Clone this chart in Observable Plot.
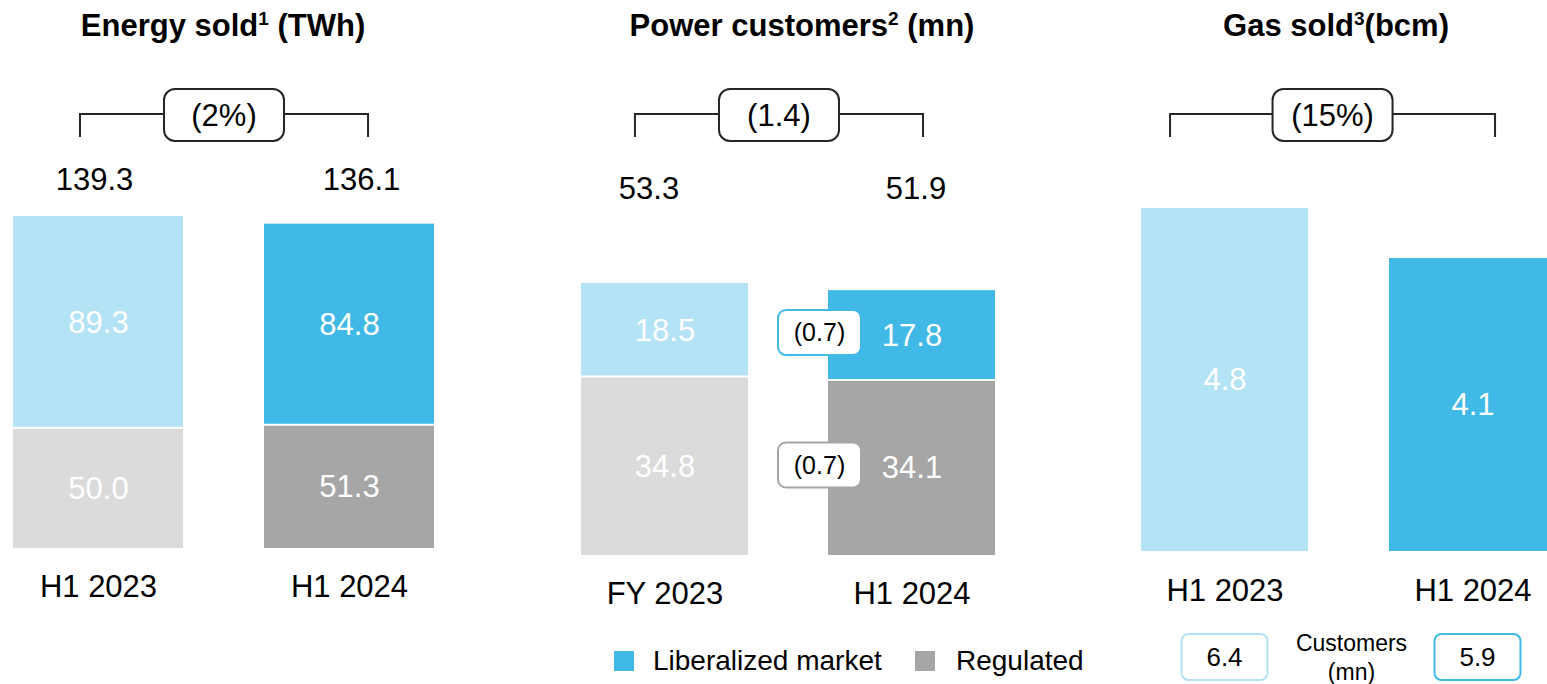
<!DOCTYPE html>
<html>
<head>
<meta charset="utf-8">
<script src="https://cdn.jsdelivr.net/npm/d3@7"></script>
<script src="https://cdn.jsdelivr.net/npm/@observablehq/plot@0.6"></script>
<style>
  html, body { margin: 0; padding: 0; background: #fff; overflow: hidden; }
  #root { position: relative; width: 1547px; height: 684px; overflow: hidden;
          font-family: "Liberation Sans", Arial, sans-serif; color: #000; }
  .title { position: absolute; top: 10px; font-weight: bold; font-size: 31px; line-height: 31px;
           white-space: nowrap; transform: translateX(-50%); }
  .title sup { font-size: 19px; line-height: 0; vertical-align: 11px; }
  .panel { position: absolute; top: 0; }
  .panel svg { max-width: none !important; overflow: visible; }
  .legend-item { position: absolute; font-size: 28px; line-height: 28px; white-space: nowrap; }
  .swatch { position: absolute; width: 20px; height: 20px; }
</style>
</head>
<body>
<div id="root"></div>
<script>
// ---------------- data ----------------
const energyCategories = ["H1 2023", "H1 2024"];
const energyLiberalized = [89.3, 84.8];
const energyRegulated = [50.0, 51.3];
const energyTotals = [139.3, 136.1];
const energyChange = "(2%)";

const powerCategories = ["FY 2023", "H1 2024"];
const powerLiberalized = [18.5, 17.8];
const powerRegulated = [34.8, 34.1];
const powerTotals = [53.3, 51.9];
const powerChange = "(1.4)";
const powerSegmentChanges = ["(0.7)", "(0.7)"]; // liberalized, regulated

const gasCategories = ["H1 2023", "H1 2024"];
const gasSold = [4.8, 4.1];
const gasChange = "(15%)";
const gasCustomers = [6.4, 5.9];
const gasCustomersLabel = ["Customers", "(mn)"];

const titleTexts = [
  ["Energy sold", "1", " (TWh)"],
  ["Power customers", "2", " (mn)"],
  ["Gas sold", "3", "(bcm)"]
];
const legendLabels = ["Liberalized market", "Regulated"];

// ---------------- style ----------------
const FONT = "Liberation Sans, Arial, sans-serif";
const COLORS = { libPrev: "#b3e3f4", libCur: "#41b9e6", regPrev: "#dbdbdb", regCur: "#a6a6a6", ink: "#262626" };
const H = 684;
const root = document.getElementById("root");

function addPanel(plot, left, width) {
  const div = document.createElement("div");
  div.className = "panel";
  div.style.left = left + "px";
  div.style.width = width + "px";
  div.appendChild(plot);
  root.appendChild(div);
}

function roundedLabel(g, cx, cy, w, h, rx, stroke, text, fontSize) {
  g.append("rect").attr("x", cx - w / 2).attr("y", cy - h / 2).attr("width", w).attr("height", h)
    .attr("rx", rx).attr("fill", "white").attr("stroke", stroke).attr("stroke-width", 2);
  g.append("text").attr("x", cx).attr("y", cy).attr("dy", "0.35em").attr("text-anchor", "middle")
    .attr("font-size", fontSize).attr("fill", "black").text(text);
}

function bracket(plot, cats, fracs, change) {
  const xs = plot.scale("x");
  const bw = xs.bandwidth;
  const x1 = xs.apply(cats[0]) + fracs[0] * bw;
  const x2 = xs.apply(cats[1]) + fracs[1] * bw;
  const g = d3.select(plot).append("g").attr("font-family", FONT);
  g.append("path").attr("d", `M${x1},137V114H${x2}V137`).attr("fill", "none")
    .attr("stroke", COLORS.ink).attr("stroke-width", 2);
  roundedLabel(g, (x1 + x2) / 2, 115, 120, 52, 11, COLORS.ink, change, 31);
}

function stackedPanel(cfg) {
  const { cats, lib, reg, totals } = cfg;
  const rows = [];
  cats.forEach((c, i) => {
    rows.push({ cat: c, series: "Regulated", value: reg[i], y1: 0, y2: reg[i],
                fill: i === 0 ? COLORS.regPrev : COLORS.regCur });
    rows.push({ cat: c, series: "Liberalized market", value: lib[i], y1: reg[i], y2: reg[i] + lib[i],
                fill: i === 0 ? COLORS.libPrev : COLORS.libCur });
  });
  const plot = Plot.plot({
    width: cfg.width, height: H,
    marginLeft: cfg.mLeft, marginRight: cfg.mRight, marginTop: cfg.top, marginBottom: H - cfg.bottom,
    style: { fontFamily: FONT, background: "transparent" },
    x: { domain: cats, paddingInner: cfg.padIn, paddingOuter: 0, axis: null },
    y: { domain: [0, d3.max(totals)], axis: null },
    color: { type: "identity" },
    marks: [
      Plot.barY(rows.filter(d => d.series === "Regulated"), { x: "cat", y1: "y1", y2: "y2", fill: "fill" }),
      Plot.barY(rows.filter(d => d.series !== "Regulated"), { x: "cat", y1: "y1", y2: "y2", fill: "fill", insetBottom: 2 }),
      Plot.text(rows, { x: "cat", y: d => (d.y1 + d.y2) / 2, text: d => d.value.toFixed(1), fill: "white", fontSize: 31 }),
      ...cats.map((c, i) => Plot.text([{ cat: c, total: totals[i] }], {
        x: "cat", frameAnchor: "top", lineAnchor: "middle", dy: cfg.totalY - cfg.top, dx: cfg.totalDx[i],
        text: d => d.total.toFixed(1), fontSize: 31, fill: "black" })),
      Plot.text(cats, { x: d => d, frameAnchor: "bottom", lineAnchor: "middle", dy: 39, text: d => d, fontSize: 31, fill: "black" })
    ]
  });
  bracket(plot, cats, cfg.bracketFracs, cfg.change);
  return plot;
}

// ---------------- titles ----------------
const titleCenters = [223, 802, 1336];
titleTexts.forEach((t, i) => {
  const d = document.createElement("div");
  d.className = "title";
  d.style.left = titleCenters[i] + "px";
  d.append(t[0]);
  const s = document.createElement("sup"); s.textContent = t[1]; d.appendChild(s);
  d.append(t[2]);
  root.appendChild(d);
});

// ---------------- panel 1: energy ----------------
const p1 = stackedPanel({
  cats: energyCategories, lib: energyLiberalized, reg: energyRegulated, totals: energyTotals,
  change: energyChange, width: 460, mLeft: 12, mRight: 26, padIn: 0.323,
  top: 216, bottom: 548, totalY: 180, totalDx: [-4, 12], bracketFracs: [0.394, 0.612]
});
addPanel(p1, 0, 460);

// ---------------- panel 2: power customers ----------------
const p2 = stackedPanel({
  cats: powerCategories, lib: powerLiberalized, reg: powerRegulated, totals: powerTotals,
  change: powerChange, width: 560, mLeft: 111, mRight: 35, padIn: 0.324,
  top: 283, bottom: 555, totalY: 189, totalDx: [-16, 4], bracketFracs: [0.323, 0.569]
});
{
  const xs = p2.scale("x"), ys = p2.scale("y");
  const g = d3.select(p2).append("g").attr("font-family", FONT);
  const x0 = xs.apply(powerCategories[1]);
  const segs = [
    { mid: powerRegulated[1] + powerLiberalized[1] / 2, stroke: COLORS.libCur, text: powerSegmentChanges[0] },
    { mid: powerRegulated[1] / 2, stroke: COLORS.regCur, text: powerSegmentChanges[1] }
  ];
  segs.forEach(s => roundedLabel(g, x0 - 8.5, ys.apply(s.mid) - 3, 83, 45, 8, s.stroke, s.text, 25));
}
addPanel(p2, 470, 560);

// ---------------- panel 3: gas ----------------
const gasRows = gasCategories.map((c, i) => ({ cat: c, value: gasSold[i], fill: i === 0 ? COLORS.libPrev : COLORS.libCur }));
const p3 = Plot.plot({
  width: 516, height: H,
  marginLeft: 101, marginRight: 0, marginTop: 208, marginBottom: H - 551,
  style: { fontFamily: FONT, background: "transparent" },
  x: { domain: gasCategories, paddingInner: 0.327, paddingOuter: 0, axis: null },
  y: { domain: [0, d3.max(gasSold)], axis: null },
  color: { type: "identity" },
  marks: [
    Plot.barY(gasRows, { x: "cat", y: "value", fill: "fill" }),
    Plot.text(gasRows, { x: "cat", y: d => d.value / 2, text: d => d.value.toFixed(1), fill: "white", fontSize: 31 }),
    Plot.text(gasCategories, { x: d => d, frameAnchor: "bottom", lineAnchor: "middle", dy: 40, text: d => d, fontSize: 31, fill: "black" })
  ]
});
bracket(p3, gasCategories, [0.174, 0.635], gasChange);
{
  const xs = p3.scale("x");
  const bw = xs.bandwidth;
  const g = d3.select(p3).append("g").attr("font-family", FONT);
  const cxs = gasCategories.map(c => xs.apply(c) + bw / 2);
  gasCustomers.forEach((v, i) => roundedLabel(g, cxs[i] + (i === 0 ? 0 : 5), 657, 86, 46, 7,
    i === 0 ? COLORS.libPrev : COLORS.libCur, v.toFixed(1), 26));
  const mid = (cxs[0] + cxs[1]) / 2 + 3;
  gasCustomersLabel.forEach((t, i) => g.append("text").attr("x", mid).attr("y", 643 + i * 29)
    .attr("dy", "0.35em").attr("text-anchor", "middle").attr("font-size", 23).text(t));
}
addPanel(p3, 1040, 516);

// ---------------- legend ----------------
const legendColors = [COLORS.libCur, COLORS.regCur];
const swatchX = [614, 915];
const textX = [653, 956];
legendLabels.forEach((l, i) => {
  const sw = document.createElement("div");
  sw.className = "swatch";
  sw.style.left = swatchX[i] + "px"; sw.style.top = "651px"; sw.style.background = legendColors[i];
  root.appendChild(sw);
  const t = document.createElement("div");
  t.className = "legend-item";
  t.style.left = textX[i] + "px"; t.style.top = "647px";
  t.textContent = l;
  root.appendChild(t);
});
</script>
</body>
</html>
